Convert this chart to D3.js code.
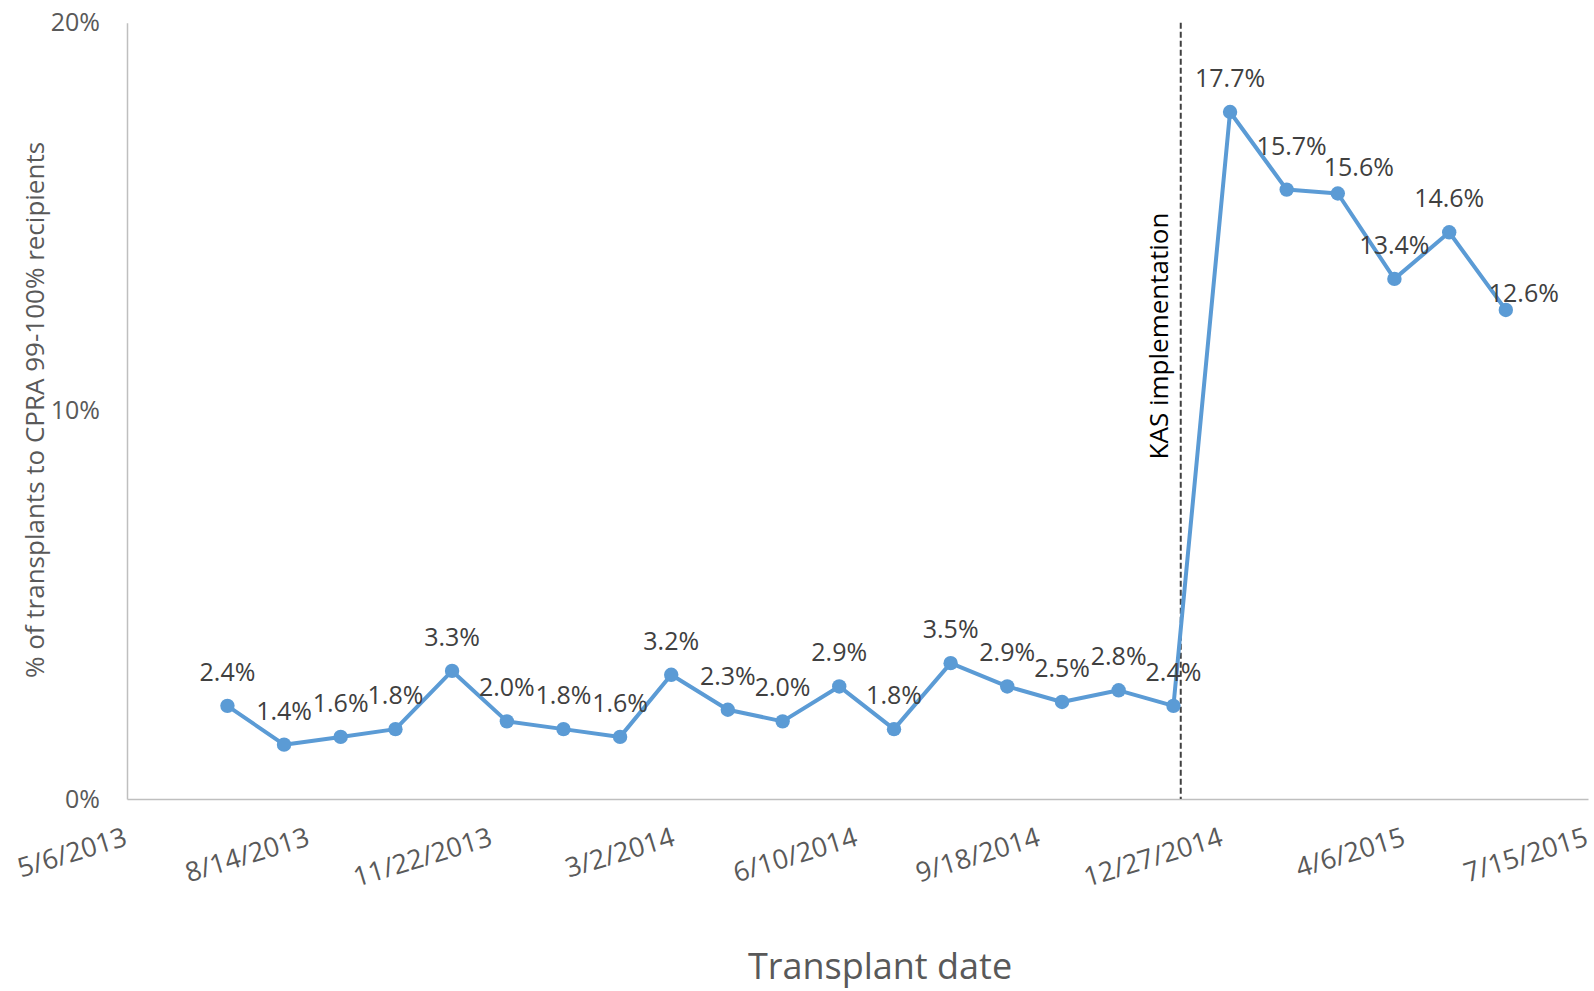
<!DOCTYPE html>
<html>
<head>
<meta charset="utf-8">
<script src="https://cdn.jsdelivr.net/npm/d3@7"></script>
<style>
  html, body { margin: 0; padding: 0; background: #fff; }
  svg { display: block; font-family: "Open Sans", "Noto Sans", sans-serif; }
</style>
</head>
<body>
<svg id="chart" width="1594" height="991"></svg>
<script>
// Monthly share of kidney transplants going to CPRA 99-100% candidates
const months = [
  "6/30/2013", "7/31/2013", "8/31/2013", "9/30/2013", "10/31/2013", "11/30/2013",
  "12/31/2013", "1/31/2014", "2/28/2014", "3/31/2014", "4/30/2014", "5/31/2014",
  "6/30/2014", "7/31/2014", "8/31/2014", "9/30/2014", "10/31/2014", "11/30/2014",
  "12/31/2014", "1/31/2015", "2/28/2015", "3/31/2015", "4/30/2015", "5/31/2015"
];
const pctValues = [
  2.4, 1.4, 1.6, 1.8, 3.3, 2.0, 1.8, 1.6, 3.2, 2.3, 2.0, 2.9,
  1.8, 3.5, 2.9, 2.5, 2.8, 2.4, 17.7, 15.7, 15.6, 13.4, 14.6, 12.6
];
const xTickLabels = [
  "5/6/2013", "8/14/2013", "11/22/2013", "3/2/2014", "6/10/2014",
  "9/18/2014", "12/27/2014", "4/6/2015", "7/15/2015"
];
const yTickValues = [0, 10, 20];
const kasDate = "12/4/2014";
const kasLabel = "KAS implementation";
const xTitle = "Transplant date";
const yTitle = "% of transplants to CPRA 99-100% recipients";

// label placement relative to its marker (most sit centred above)
const labelShift = {
  19: [5, -10],
  20: [21, 8],
  23: [18, 17]
};

const parse = d3.timeParse("%m/%d/%Y");
const data = months.map((m, i) => ({ date: parse(m), value: pctValues[i] }));
const xTicks = xTickLabels.map(parse);

const W = 1594, H = 991;
const margin = { top: 22.7, right: 6, bottom: 192, left: 127 };

const svg = d3.select("#chart");

const x = d3.scaleTime()
  .domain([xTicks[0], xTicks[xTicks.length - 1]])
  .range([margin.left, W - margin.right]);
const y = d3.scaleLinear()
  .domain([0, 20])
  .range([H - margin.bottom, margin.top]);

const axisColor = "#BFBFBF";
const tickText = "#595959";

// axes
const yAxis = svg.append("g")
  .attr("transform", `translate(${margin.left},0)`)
  .call(d3.axisLeft(y).tickValues(yTickValues).tickSize(0).tickPadding(27)
    .tickFormat(d => d + "%"));
yAxis.select(".domain").attr("stroke", axisColor).attr("stroke-width", 1.5);
yAxis.selectAll("text")
  .attr("fill", tickText)
  .style("font-size", "25px")
  .style("font-family", "\"Open Sans\", sans-serif");

const xAxis = svg.append("g")
  .attr("transform", `translate(0,${H - margin.bottom})`)
  .call(d3.axisBottom(x).tickValues(xTicks).tickSize(0)
    .tickFormat((d, i) => xTickLabels[i]));
xAxis.select(".domain").attr("stroke", axisColor).attr("stroke-width", 1.5);
xAxis.selectAll("text")
  .attr("fill", tickText)
  .attr("text-anchor", "end")
  .attr("x", 0).attr("y", 0).attr("dy", null)
  .attr("transform", "translate(1,46) rotate(-17)")
  .style("font-size", "27px")
  .style("font-family", "\"Open Sans\", sans-serif");

// KAS implementation marker
const kx = x(parse(kasDate));
svg.append("line")
  .attr("x1", kx).attr("x2", kx)
  .attr("y1", y(20)).attr("y2", y(0))
  .attr("stroke", "#404040")
  .attr("stroke-width", 2)
  .attr("stroke-dasharray", "6,3");
svg.append("text")
  .attr("transform", `translate(${kx - 13},336) rotate(-90)`)
  .attr("text-anchor", "middle")
  .attr("fill", "#000")
  .style("font-size", "26px")
  .text(kasLabel);

// series line and markers
const blue = "#5B9BD5";
svg.append("path")
  .datum(data)
  .attr("fill", "none")
  .attr("stroke", blue)
  .attr("stroke-width", 4)
  .attr("stroke-linejoin", "round")
  .attr("d", d3.line().x(d => x(d.date)).y(d => y(d.value)));

svg.append("g")
  .selectAll("circle")
  .data(data)
  .join("circle")
  .attr("cx", d => x(d.date))
  .attr("cy", d => y(d.value))
  .attr("r", 7.2)
  .attr("fill", blue);

// data labels
svg.append("g")
  .selectAll("text")
  .data(data)
  .join("text")
  .attr("x", (d, i) => x(d.date) + (labelShift[i] ? labelShift[i][0] : 0))
  .attr("y", (d, i) => y(d.value) - 25 + (labelShift[i] ? labelShift[i][1] : 0))
  .attr("text-anchor", "middle")
  .attr("fill", "#404040")
  .style("font-size", "25px")
  .text(d => d.value.toFixed(1) + "%");

// axis titles
svg.append("text")
  .attr("x", 880).attr("y", 979)
  .attr("text-anchor", "middle")
  .attr("fill", tickText)
  .style("font-size", "36px")
  .text(xTitle);

svg.append("text")
  .attr("transform", "translate(44,410) rotate(-90)")
  .attr("text-anchor", "middle")
  .attr("fill", tickText)
  .style("font-size", "26px")
  .text(yTitle);
</script>
</body>
</html>
